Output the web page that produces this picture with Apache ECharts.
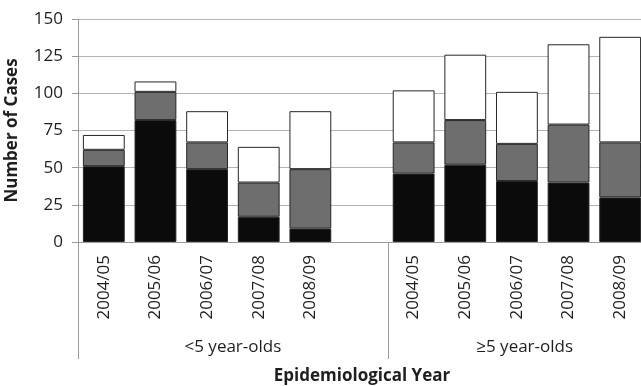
<!DOCTYPE html>
<html>
<head>
<meta charset="utf-8">
<script src="https://cdn.jsdelivr.net/npm/echarts@6/dist/echarts.min.js"></script>
<style>
  html, body { margin: 0; padding: 0; background: #fff; }
  #chart { width: 641px; height: 386px; }
</style>
</head>
<body>
<div id="chart"></div>
<script>
// categories (blank slot separates the two age groups)
var years = ['2004/05', '2005/06', '2006/07', '2007/08', '2008/09', '',
             '2004/05', '2005/06', '2006/07', '2007/08', '2008/09'];

// stacked values, bottom to top
var blackCases = [51, 82, 49, 17, 9, null, 46, 52, 41, 40, 30];
var greyCases  = [11, 19, 18, 23, 40, null, 21, 30, 25, 39, 37];
var whiteCases = [10, 7, 21, 24, 39, null, 35, 44, 35, 54, 71];

// age groups on the second axis level
var groupNames = ['<5 year-olds', '\u22655 year-olds'];
var groupLabelAt = [3, 8.65];
var groupBounds = [0, 6, 11];

var yTicks = [0, 25, 50, 75, 100, 125, 150];

var myChart = echarts.init(document.getElementById('chart'));

var font = '"Open Sans", sans-serif';
var axisGrey = '#9a9a9a';

function barSeries(name, data, color) {
    return {
        name: name,
        type: 'bar',
        stack: 'cases',
        data: data,
        barCategoryGap: '19%',
        itemStyle: { color: color, borderColor: '#262626', borderWidth: 1 }
    };
}

var option = {
    backgroundColor: '#fff',
    animation: false,
    // plot runs slightly past the right edge, as in the original crop
    grid: { left: 78, top: 19, right: -5, bottom: 144, outerBoundsMode: 'none' },
    xAxis: [
        {
            type: 'category',
            data: years,
            axisLine: { lineStyle: { color: axisGrey } },
            axisTick: { interval: 0, length: 80, lineStyle: { color: axisGrey } },
            axisLabel: {
                interval: 0, rotate: 90, margin: 13,
                fontFamily: font, fontSize: 17, color: '#1e1e1e'
            }
        },
        {
            type: 'value',
            position: 'bottom',
            min: 0,
            max: 11,
            splitLine: { show: false },
            axisLine: { show: false },
            axisTick: { show: true, customValues: groupBounds, length: 117, lineStyle: { color: axisGrey } },
            axisLabel: {
                customValues: groupLabelAt,
                margin: 97,
                fontFamily: font, fontSize: 17, color: '#1e1e1e',
                formatter: function (v) {
                    var i = groupLabelAt.indexOf(v);
                    return i >= 0 ? groupNames[i] : '';
                }
            },
            name: 'Epidemiological Year',
            nameLocation: 'middle',
            nameGap: 126,
            nameTextStyle: { fontFamily: font, fontSize: 17, fontWeight: 'bold', color: '#1e1e1e' }
        }
    ],
    yAxis: {
        type: 'value',
        min: yTicks[0],
        max: yTicks[yTicks.length - 1],
        interval: 25,
        name: 'Number of Cases',
        nameLocation: 'middle',
        nameGap: 57,
        nameTextStyle: { fontFamily: font, fontSize: 17, fontWeight: 'bold', color: '#1e1e1e' },
        axisLine: { show: true, lineStyle: { color: axisGrey } },
        axisTick: { show: true, length: 6, lineStyle: { color: axisGrey } },
        axisLabel: { margin: 15, fontFamily: font, fontSize: 17, color: '#1e1e1e' },
        splitLine: { lineStyle: { color: '#b4b4b4' } }
    },
    series: [
        barSeries('black', blackCases, '#0b0b0b'),
        barSeries('grey', greyCases, '#6e6e6e'),
        barSeries('white', whiteCases, '#ffffff')
    ]
};

myChart.setOption(option);
</script>
</body>
</html>
